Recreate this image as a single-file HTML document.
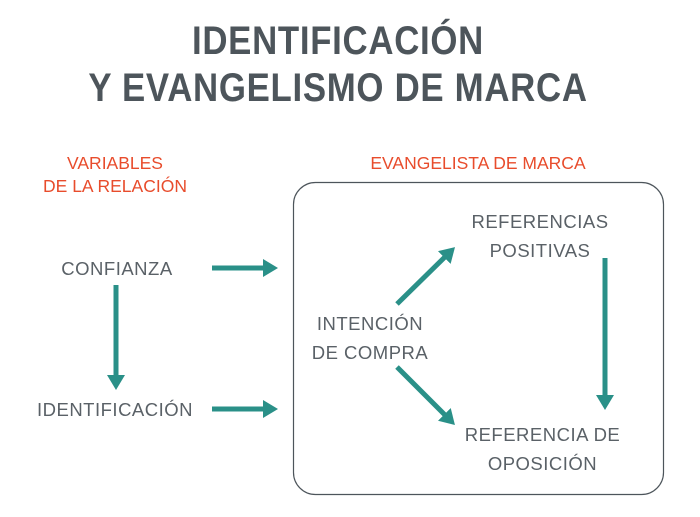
<!DOCTYPE html>
<html><head><meta charset="utf-8"><style>
body{margin:0;width:700px;height:517px;background:#fff;position:relative;overflow:hidden;font-family:"Liberation Sans",sans-serif}
.t{position:absolute;white-space:nowrap;text-align:center}
.title{left:-12px;width:700px;font-weight:bold;font-size:40px;color:#4d555b;letter-spacing:0.8px;transform:scaleX(0.87)}
.o{color:#e84c2c;font-size:17.5px;line-height:23px}
.g{color:#5a6167;font-size:18.5px;line-height:29px;letter-spacing:0.5px}
</style></head><body>
<div class="t title" style="top:19px">IDENTIFICACIÓN</div>
<div class="t title" style="top:66px">Y EVANGELISMO DE MARCA</div>
<div class="t o" style="left:40px;width:150px;top:152px">VARIABLES<br>DE LA RELACIÓN</div>
<div class="t o" style="left:338px;width:280px;top:152px">EVANGELISTA DE MARCA</div>
<div class="t g" style="left:42px;width:150px;top:254px">CONFIANZA</div>
<div class="t g" style="left:20px;width:190px;top:395px">IDENTIFICACIÓN</div>
<div class="t g" style="left:300px;width:140px;top:309px">INTENCIÓN<br>DE COMPRA</div>
<div class="t g" style="left:460px;width:160px;top:207px">REFERENCIAS<br>POSITIVAS</div>
<div class="t g" style="left:450px;width:185px;top:420px">REFERENCIA DE<br>OPOSICIÓN</div>
<svg width="700" height="517" style="position:absolute;left:0;top:0">
<defs><marker id="a" markerWidth="4" markerHeight="4" refX="1.6" refY="2" orient="auto" markerUnits="strokeWidth"><path d="M0,0.2 L3,2 L0,3.8 Z" fill="#2a9088"/></marker></defs>
<rect x="293.5" y="182.5" width="370" height="312" rx="22" fill="none" stroke="#4d555b" stroke-width="1.2"/>
<g stroke="#2a9088" stroke-width="5" marker-end="url(#a)" fill="none">
<line x1="212" y1="268" x2="271" y2="268"/>
<line x1="212" y1="409" x2="271" y2="409"/>
<line x1="116" y1="285" x2="116" y2="383"/>
<line x1="397" y1="304" x2="450" y2="252"/>
<line x1="397" y1="367" x2="450" y2="420"/>
<line x1="605" y1="258" x2="605" y2="403"/>
</g>
</svg>
</body></html>
